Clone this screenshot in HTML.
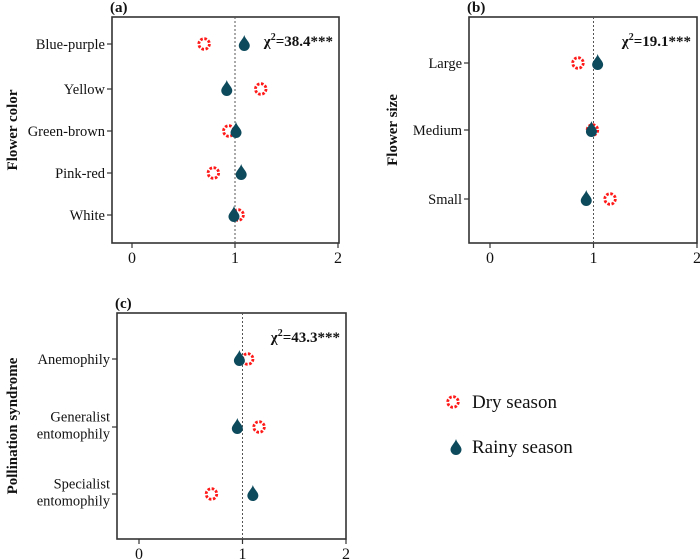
<!DOCTYPE html>
<html><head><meta charset="utf-8">
<style>
html,body{margin:0;padding:0;background:#fff;}
svg{display:block;font-family:"Liberation Serif",serif;}
</style></head>
<body>
<svg id="chart" width="700" height="560" viewBox="0 0 700 560" xmlns="http://www.w3.org/2000/svg"></svg>
<script>
// Panel (a) data
const colorCats = ["Blue-purple","Yellow","Green-brown","Pink-red","White"];
const colorDry = [0.70, 1.25, 0.94, 0.79, 1.03];
const colorRainy = [1.09, 0.92, 1.01, 1.06, 0.99];
// Panel (b) data
const sizeCats = ["Large","Medium","Small"];
const sizeDry = [0.85, 0.99, 1.16];
const sizeRainy = [1.04, 0.98, 0.93];
// Panel (c) data
const pollCats = [["Anemophily"],["Generalist","entomophily"],["Specialist","entomophily"]];
const pollDry = [1.05, 1.16, 0.70];
const pollRainy = [0.97, 0.95, 1.10];
const xTicks = [0, 1, 2];
const chiLabels = ["38.4","19.1","43.3"];

const NS = "http://www.w3.org/2000/svg";
const svg = document.getElementById("chart");
function mk(tag, attrs, parent){
  const e = document.createElementNS(NS, tag);
  for (const k in attrs) e.setAttribute(k, attrs[k]);
  (parent||svg).appendChild(e);
  return e;
}
function dryMarker(g, x, y){
  const m = mk("circle", {cx:x, cy:y, r:5.3, fill:"#fff", stroke:"#ff1a1a", "stroke-width":2.8, "stroke-dasharray":"2.6 1.57"}, g);
  
  
  return m;
}
function rainyMarker(g, x, y){
  const m = mk("path", {d:`M${x},${y-9} C${x+1},${y-5} ${x+5.5},${y-2} ${x+5.5},${y+1.5} A5.5,5.5 0 0 1 ${x-5.5},${y+1.5} C${x-5.5},${y-2} ${x-1},${y-5} ${x},${y-9} Z`, fill:"#0d4a5c"}, g);
  
  
  return m;
}

function panel(opt){
  const g = mk("g", {});
  
  
  const {L,R,T,B,x0,x1} = opt;
  const sx = v => x0 + (x1 - x0) * v;
  const box = mk("rect", {x:L, y:T, width:R-L, height:B-T, fill:"none", stroke:"#333", "stroke-width":1.6}, g);
  
  
  const ref = mk("line", {x1:sx(1), x2:sx(1), y1:T, y2:B, stroke:"#555", "stroke-width":1, "stroke-dasharray":"2 2"}, g);
  
  
  xTicks.forEach(t => {
    const tl = mk("line", {x1:sx(t), x2:sx(t), y1:B, y2:B+5, stroke:"#333", "stroke-width":1.2}, g);
    
    
    const tx = mk("text", {x:sx(t), y:B+20, "text-anchor":"middle", "font-size":16, fill:"#111"}, g);
    tx.textContent = t;
    
    
  });
  opt.cats.forEach((c, i) => {
    const y = opt.rows[i];
    const tl = mk("line", {x1:L-5, x2:L, y1:y, y2:y, stroke:"#333", "stroke-width":1.2}, g);
    
    
    const lines = Array.isArray(c) ? c : [c];
    const tx = mk("text", {"text-anchor":"end", "font-size":14.5, fill:"#111"}, g);
    
    
    lines.forEach((ln, j) => {
      const ts = mk("tspan", {x:L-7, y: y + 5 + (j - (lines.length-1)/2) * 17 - (lines.length>1?2:0)}, tx);
      ts.textContent = ln;
    });
    dryMarker(g, sx(opt.dry[i]), y);
    rainyMarker(g, sx(opt.rainy[i]), y);
  });
  const chi = mk("text", {x:R-6, y:T+29, "text-anchor":"end", "font-size":15, "font-weight":"bold", fill:"#111"}, g);
  
  
  chi.innerHTML = `χ<tspan dy="-6" font-size="10">2</tspan><tspan dy="6">=${opt.chi}***</tspan>`;
  const pl = mk("text", {x:L-2, y:T-5, "font-size":15, "font-weight":"bold", fill:"#111"}, g);
  pl.textContent = opt.label;
  
  
  const yt = mk("text", {x:0, y:0, transform:`translate(${opt.titleX},${(T+B)/2}) rotate(-90)`, "text-anchor":"middle", "font-size":15, "font-weight":"bold", fill:"#111"}, g);
  yt.textContent = opt.title;
  
  
}

panel({name:"panel-a-flower-color", L:112, R:339, T:17, B:243, x0:132, x1:235,
  rows:[44,89,131,173,215], cats:colorCats, dry:colorDry, rainy:colorRainy,
  chi:chiLabels[0], label:"(a)", title:"Flower color", titleX:17});
panel({name:"panel-b-flower-size", L:469, R:697, T:17, B:243, x0:490, x1:593.5,
  rows:[63,130,199], cats:sizeCats, dry:sizeDry, rainy:sizeRainy,
  chi:chiLabels[1], label:"(b)", title:"Flower size", titleX:397});
panel({name:"panel-c-pollination", L:117, R:346, T:313, B:539, x0:139, x1:242.5,
  rows:[359,427,494], cats:pollCats, dry:pollDry, rainy:pollRainy,
  chi:chiLabels[2], label:"(c)", title:"Pollination syndrome", titleX:17});

const lg = mk("g", {});


dryMarker(lg, 453, 402);
const t1 = mk("text", {x:472, y:408, "font-size":19, fill:"#111"}, lg);
t1.textContent = "Dry season";


rainyMarker(lg, 456, 448);
const t2 = mk("text", {x:472, y:453, "font-size":19, fill:"#111"}, lg);
t2.textContent = "Rainy season";


</script>
</body></html>
